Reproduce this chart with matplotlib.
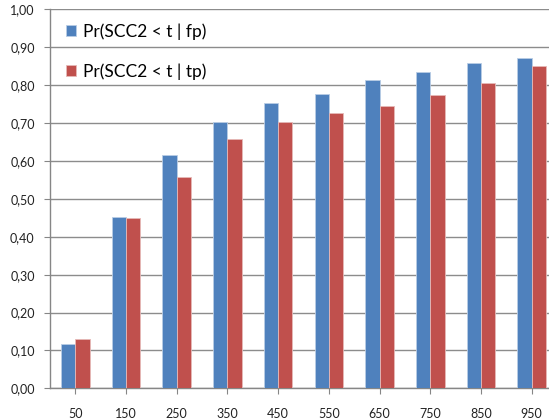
import matplotlib
matplotlib.use("Agg")
import matplotlib.pyplot as plt
import numpy as np

categories = ["50", "150", "250", "350", "450", "550", "650", "750", "850", "950"]
fp_values = [0.117, 0.451, 0.617, 0.702, 0.753, 0.778, 0.813, 0.836, 0.858, 0.873]
tp_values = [0.130, 0.449, 0.557, 0.657, 0.703, 0.727, 0.744, 0.773, 0.806, 0.852]
y_ticks = [0.0, 0.1, 0.2, 0.3, 0.4, 0.5, 0.6, 0.7, 0.8, 0.9, 1.0]

plt.rcParams['font.family'] = ['Lato', 'DejaVu Sans']

fig = plt.figure(figsize=(5.49, 4.19), dpi=100)
ax = fig.add_axes([50 / 549, (419 - 388.3) / 419, 507 / 549, 378.8 / 419])

x = np.arange(len(categories))
w = 0.283
ax.bar(x - w / 2, fp_values, w, color="#4F81BD", edgecolor="#B9CDE5", linewidth=0.6,
       label="Pr(SCC2 < t | fp)", zorder=3)
ax.bar(x + w / 2, tp_values, w, color="#C0504D", edgecolor="#E6B9B8", linewidth=0.6,
       label="Pr(SCC2 < t | tp)", zorder=3)

ax.set_xlim(-0.5, len(categories) - 0.5)
ax.set_ylim(0, 1.0)
ax.set_xticks(x)
ax.set_xticklabels(categories, fontsize=9, color="#222222")
ax.set_yticks(y_ticks)
ax.set_yticklabels([f"{v:.2f}".replace(".", ",") for v in y_ticks], fontsize=9, color="#222222")
ax.tick_params(axis="x", length=4, pad=10, color="#868686")
ax.tick_params(axis="y", length=4, pad=7, color="#868686")
ax.yaxis.grid(True, color="#8C8C8C", linewidth=1.0, zorder=0)
ax.set_axisbelow(True)
for s in ["top", "right"]:
    ax.spines[s].set_visible(False)
for s in ["left", "bottom"]:
    ax.spines[s].set_color("#868686")
    ax.spines[s].set_linewidth(1.0)

leg = ax.legend(loc="upper left", bbox_to_anchor=(0.0, 1.005), frameon=False,
                fontsize=12.5, handlelength=0.6, handleheight=0.6, handletextpad=0.4,
                labelspacing=1.35)

fig.savefig("out.png", dpi=100)
